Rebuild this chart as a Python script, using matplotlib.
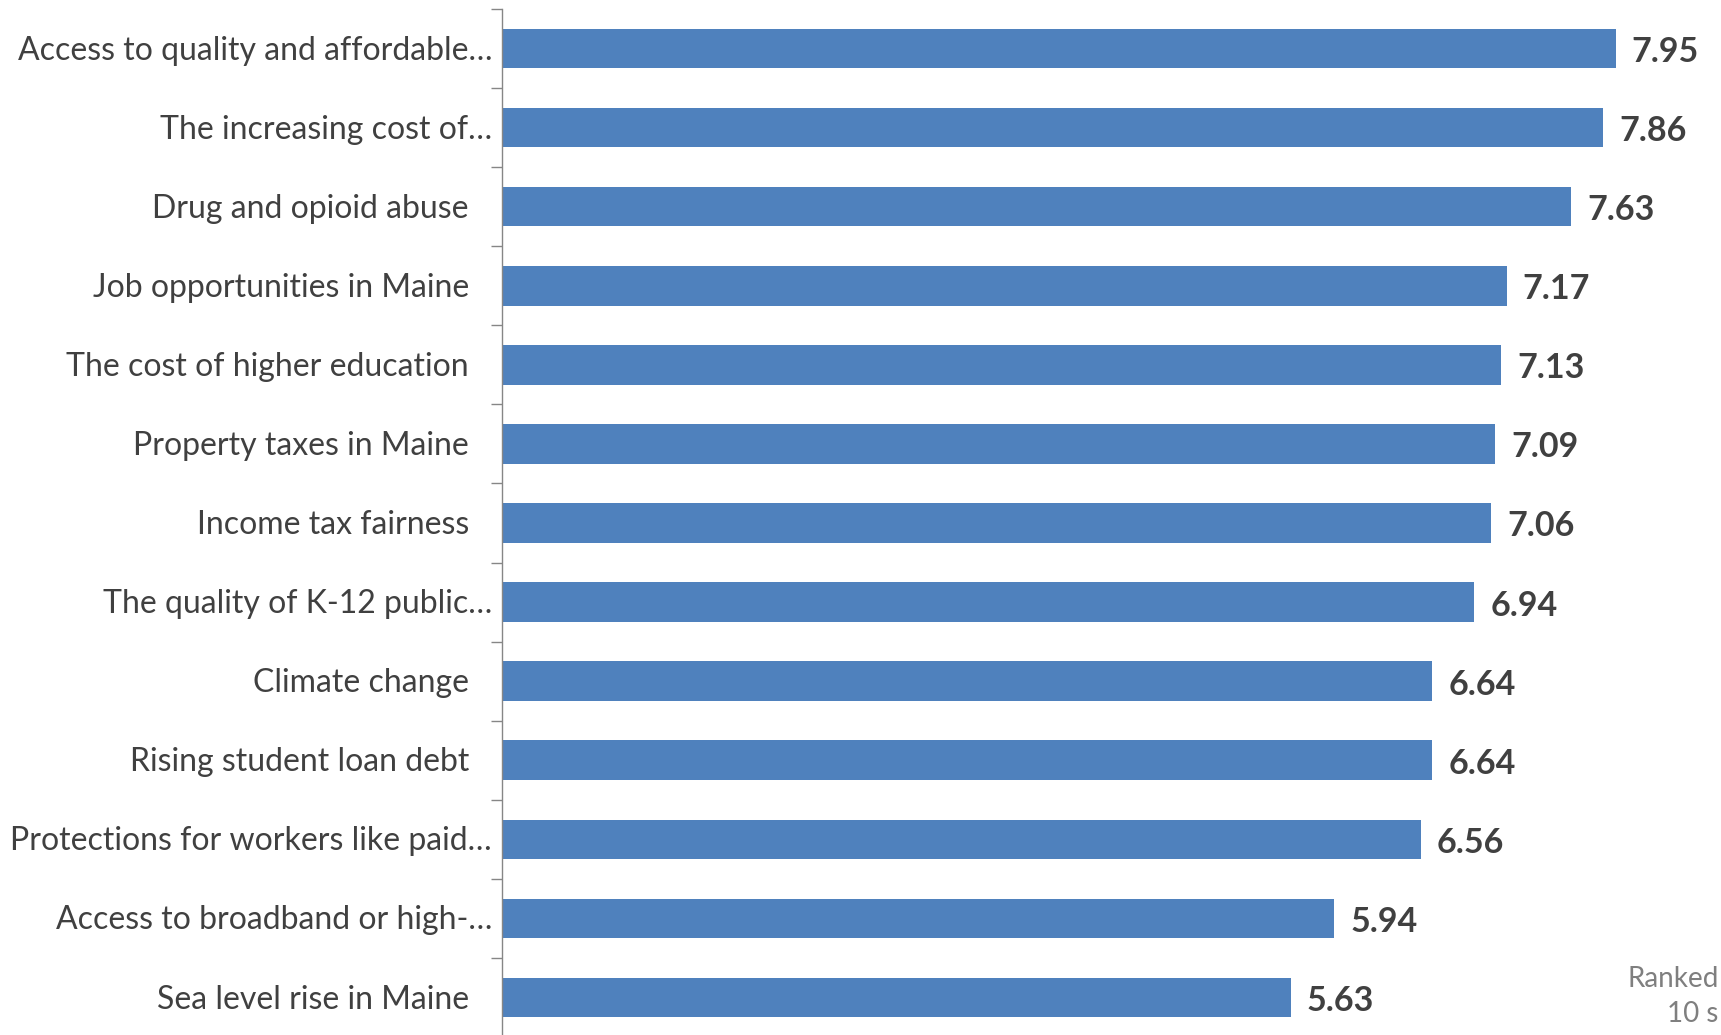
import matplotlib
matplotlib.use("Agg")
import matplotlib.pyplot as plt

categories = [
    "Access to quality and affordable\u2026",
    "The increasing cost of\u2026",
    "Drug and opioid abuse",
    "Job opportunities in Maine",
    "The cost of higher education",
    "Property taxes in Maine",
    "Income tax fairness",
    "The quality of K-12 public\u2026",
    "Climate change",
    "Rising student loan debt",
    "Protections for workers like paid\u2026",
    "Access to broadband or high-\u2026",
    "Sea level rise in Maine",
]
values = [7.95, 7.86, 7.63, 7.17, 7.13, 7.09, 7.06, 6.94, 6.64, 6.64, 6.56, 5.94, 5.63]
value_labels = ["7.95", "7.86", "7.63", "7.17", "7.13", "7.09", "7.06", "6.94", "6.64", "6.64", "6.56", "5.94", "5.63"]
note_lines = ["Ranked", "10 s"]

W, H = 1721, 1035
fig = plt.figure(figsize=(W / 100, H / 100), dpi=100)
plt.rcParams['font.family'] = ['Lato', 'DejaVu Sans']

ax = fig.add_axes([502 / W, (H - 1037) / H, 140.1 * 9 / W, 1028 / H])
n = len(categories)
ypos = list(range(n))
ax.barh(ypos, values, height=0.5, color="#4F81BD", edgecolor="none")
ax.set_xlim(0, 9)
ax.set_ylim(n - 0.5, -0.5)

for s in ["top", "right", "bottom"]:
    ax.spines[s].set_visible(False)
ax.spines["left"].set_color("#868686")
ax.spines["left"].set_linewidth(1.0)
ax.set_xticks([])
ax.set_yticks([i - 0.5 for i in range(n)] + [n - 0.5])
ax.set_yticklabels([])
ax.tick_params(axis="y", length=8, width=1.0, color="#868686", direction="out")

txtcol = "#404040"
for i, (lab, v, vl) in enumerate(zip(categories, values, value_labels)):
    off = -10 if lab.endswith("\u2026") else -33
    ax.annotate(lab, xy=(0, i), xycoords=("axes fraction", "data"),
                xytext=(off * 0.72, -1.5), textcoords="offset points",
                ha="right", va="center", fontsize=23, color=txtcol)
    ax.annotate(vl, xy=(v, i), xycoords="data",
                xytext=(16 * 0.72, -2.5), textcoords="offset points",
                ha="left", va="center", fontsize=24.5, color=txtcol,
                fontweight="bold")

fig.text(1627 / W, 1 - 987 / H, note_lines[0], ha="left", va="baseline",
         fontsize=20, color="#7F7F7F")
fig.text(1718 / W, 1 - 1022 / H, note_lines[1], ha="right", va="baseline",
         fontsize=20, color="#7F7F7F")

fig.savefig("out.png", dpi=100)
